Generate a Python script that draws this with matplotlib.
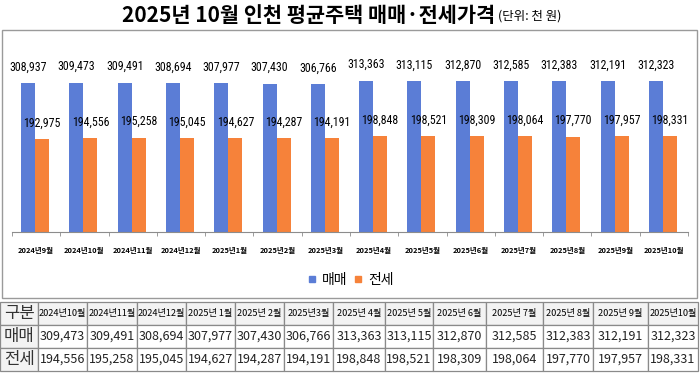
import matplotlib.pyplot as plt
from matplotlib.patches import Rectangle
from matplotlib.lines import Line2D
import numpy as np

plt.rcParams['font.family'] = ['Noto Sans CJK KR', 'DejaVu Sans']

months = ["2024년9월", "2024년10월", "2024년11월", "2024년12월", "2025년1월", "2025년2월",
          "2025년3월", "2025년4월", "2025년5월", "2025년6월", "2025년7월", "2025년8월",
          "2025년9월", "2025년10월"]
sale = [308937, 309473, 309491, 308694, 307977, 307430, 306766,
        313363, 313115, 312870, 312585, 312383, 312191, 312323]
jeonse = [192975, 194556, 195258, 195045, 194627, 194287, 194191,
          198848, 198521, 198309, 198064, 197770, 197957, 198331]

table_cols = ["2024년10월", "2024년11월", "2024년12월", "2025년 1월", "2025년 2월", "2025년3월",
              "2025년 4월", "2025년 5월", "2025년 6월", "2025년 7월", "2025년 8월", "2025년 9월",
              "2025년10월"]
col_px = [38, 49, 50, 49, 49, 49, 49, 52, 48, 53, 57, 50, 55, 50]

blue = "#5b7dd6"
orange = "#f6823a"
W, H = 700, 374
narrow = ['Roboto Condensed', 'Archivo Narrow', 'PT Sans Narrow', 'DejaVu Sans']

fig = plt.figure(figsize=(7, 3.74), dpi=100)

# chart frame
fig.patches.append(Rectangle((2 / W, 1 - 298 / H), 695 / W, 268 / H, transform=fig.transFigure,
                             fill=False, edgecolor="#9a9a9a", linewidth=1.0))

ax = fig.add_axes([12 / W, 1 - 232 / H, 676 / W, 169 / H])
x = np.arange(len(months))
bw = 0.29
b1 = ax.bar(x - 0.02 - bw / 2, sale, bw, color=blue)
b2 = ax.bar(x - 0.02 + bw / 2, jeonse, bw, color=orange)
for bars, vals in ((b1, sale), (b2, jeonse)):
    for r, v in zip(bars, vals):
        ax.annotate(f"{v:,}", (r.get_x() + r.get_width() / 2, v), xytext=(0, 11.5),
                    textcoords="offset points", ha="center", va="center",
                    fontsize=8.6, family=narrow, annotation_clip=False)

ax.set_xlim(-0.5, len(months) - 0.5)
ax.set_ylim(0, 350000)
ax.set_yticks([])
for s in ("top", "left", "right"):
    ax.spines[s].set_visible(False)
ax.spines["bottom"].set_color("#8c8c8c")
ax.set_xticks(x)
ax.set_xticklabels(months, fontsize=5.4, fontweight="bold")
ax.set_xticks(np.arange(-0.5, len(months)), minor=True)
ax.tick_params(axis="x", which="major", length=0, pad=11)
ax.tick_params(axis="x", which="minor", length=3, color="#8c8c8c")

handles = [Line2D([], [], marker="s", linestyle="none", markersize=4.5, color=blue),
           Line2D([], [], marker="s", linestyle="none", markersize=4.5, color=orange)]
fig.legend(handles, ["매매", "전세"], loc="center", bbox_to_anchor=(0.5, 1 - 280 / H),
           ncol=2, frameon=False, fontsize=10, handletextpad=0.3, columnspacing=0.4,
           handlelength=0.8)

# title (main part + unit, centred together)
t = fig.text(0, 1 - 15 / H, "2025년 10월 인천 평균주택 매매·전세가격", fontsize=15,
             fontweight="bold", ha="left", va="center")
u = fig.text(0, 1 - 16 / H, "(단위: 천 원)", fontsize=9, ha="left", va="center")
fig.canvas.draw()
w1 = t.get_window_extent().width
w2 = u.get_window_extent().width
x0 = 342 - (w1 + 3 + w2) / 2
t.set_x(x0 / W)
u.set_x((x0 + w1 + 3) / W)

# table
tax = fig.add_axes([0, 1 - 371 / H, 698 / W, 69 / H])
tax.axis("off")
rows = [["구분"] + table_cols,
        ["매매"] + [f"{v:,}" for v in sale[1:]],
        ["전세"] + [f"{v:,}" for v in jeonse[1:]]]
tot = sum(col_px)
tbl = tax.table(cellText=rows, colWidths=[c / tot for c in col_px], bbox=[0, 0, 1, 1],
                cellLoc="center")
tbl.auto_set_font_size(False)
for (r, c), cell in tbl.get_celld().items():
    cell.set_edgecolor("#8a8a8a")
    cell.set_linewidth(0.9)
    txt = cell.get_text()
    if c == 0:
        txt.set_fontsize(12)
        cell.set_facecolor("#f3f3f3")
        txt.set_color("#333333")
    elif r == 0:
        txt.set_fontsize(6.6)
        cell.set_facecolor("#f3f3f3")
    else:
        txt.set_fontsize(9)
        txt.set_color("#222222")

fig.savefig("out.png", dpi=100)
